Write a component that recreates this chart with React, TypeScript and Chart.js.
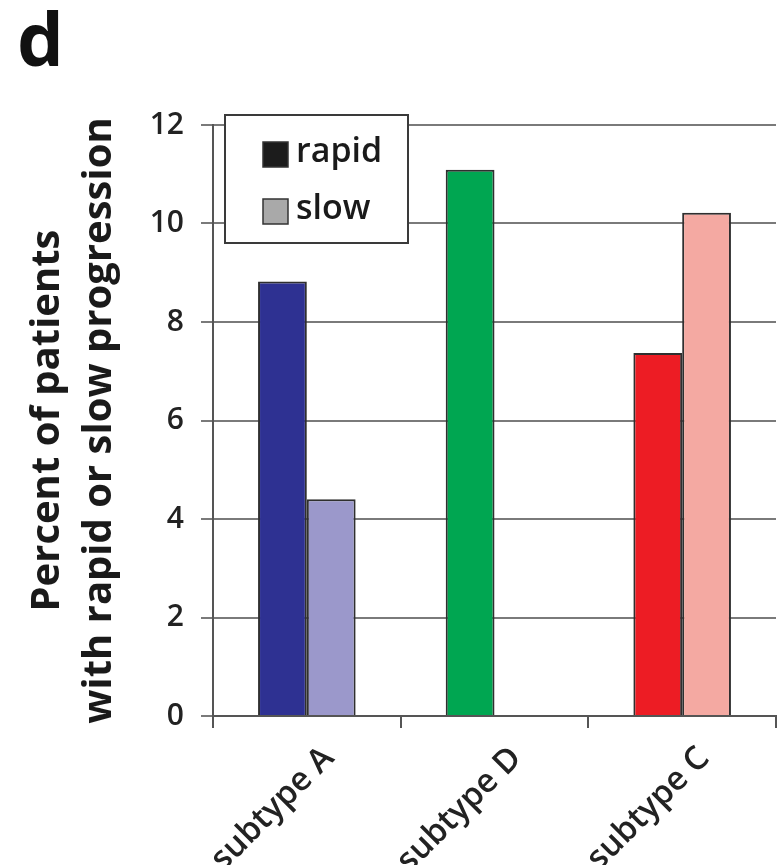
import React, { useEffect, useRef } from 'react';
import { Chart, registerables } from 'chart.js';

Chart.register(...registerables);

const categories = ['subtype A', 'subtype D', 'subtype C'];
const seriesLabels = ['rapid', 'slow'];
const rapidValues: (number | null)[] = [8.82, 11.09, 7.37];
const slowValues: (number | null)[] = [4.4, null, 10.22];
const rapidColors = ['#2E3192', '#00A651', '#ED1C24'];
const slowColors = ['#9B98CB', '#FFFFFF', '#F4A9A2'];
const legendSwatches = ['#1C1C1C', '#A9A9A9'];
const yTicks = [0, 2, 4, 6, 8, 10, 12];
const yTitle = ['Percent of patients', 'with rapid or slow progression'];
const panelLetter = 'd';

const FONT = "'Open Sans', 'Liberation Sans', sans-serif";

const overlayPlugin = {
  id: 'overlay',
  afterDraw(chart: any) {
    const ctx = chart.ctx as CanvasRenderingContext2D;
    const a = chart.chartArea;
    ctx.save();
    // panel letter
    ctx.fillStyle = '#111111';
    ctx.font = `bold 74px ${FONT}`;
    ctx.textBaseline = 'alphabetic';
    ctx.textAlign = 'left';
    ctx.fillText(panelLetter, 17, 66);
    // legend box
    const x0 = a.left + 12;
    const y0 = a.top - 10;
    const w = 183;
    const h = 128;
    ctx.fillStyle = '#ffffff';
    ctx.fillRect(x0, y0, w, h);
    ctx.strokeStyle = '#3a3a3a';
    ctx.lineWidth = 2;
    ctx.strokeRect(x0, y0, w, h);
    chart.data.datasets.forEach((ds: any, i: number) => {
      const cy = y0 + 39 + i * 57;
      ctx.fillStyle = legendSwatches[i];
      ctx.fillRect(x0 + 38, cy - 12, 25, 25);
      ctx.strokeStyle = '#333333';
      ctx.lineWidth = 1.5;
      ctx.strokeRect(x0 + 38, cy - 12, 25, 25);
      ctx.fillStyle = '#1a1a1a';
      ctx.font = `600 34px ${FONT}`;
      ctx.textBaseline = 'middle';
      ctx.fillText(ds.label, x0 + 71, cy - 2);
    });
    ctx.restore();
  },
};

export default function App() {
  const canvasRef = useRef<HTMLCanvasElement | null>(null);

  useEffect(() => {
    if (!canvasRef.current) return;
    const chart = new Chart(canvasRef.current, {
      type: 'bar',
      data: {
        labels: categories,
        datasets: [
          {
            label: seriesLabels[0],
            data: rapidValues,
            backgroundColor: rapidColors,
            borderColor: '#2f2f2f',
            borderWidth: 2,
            categoryPercentage: 0.52,
            barPercentage: 1,
          },
          {
            label: seriesLabels[1],
            data: slowValues,
            backgroundColor: slowColors,
            borderColor: '#2f2f2f',
            borderWidth: 2,
            categoryPercentage: 0.52,
            barPercentage: 1,
          },
        ],
      },
      options: {
        animation: false,
        responsive: true,
        maintainAspectRatio: false,
        layout: { padding: { top: 125, right: 1, left: 0, bottom: 0 } },
        plugins: {
          legend: { display: false },
          tooltip: { enabled: false },
        },
        scales: {
          x: {
            ticks: {
              color: '#222222',
              font: { size: 33, weight: '600', family: FONT },
              minRotation: 45,
              maxRotation: 45,
              padding: 11,
              labelOffset: 22,
            },
            grid: {
              offset: true,
              drawOnChartArea: false,
              drawTicks: true,
              tickLength: 12,
              color: '#555555',
              lineWidth: 2,
            },
            border: { color: '#555555', width: 2 },
            afterFit: (s: any) => {
              s.height = 149;
            },
          },
          y: {
            min: 0,
            max: 12,
            afterBuildTicks: (s: any) => {
              s.ticks = yTicks.map((v) => ({ value: v }));
            },
            ticks: {
              color: '#222222',
              font: { size: 30, weight: '600', family: FONT },
              padding: 17,
            },
            grid: {
              color: '#7a7a7a',
              lineWidth: 2,
              tickLength: 12,
              drawTicks: true,
            },
            border: { color: '#555555', width: 2 },
            title: {
              display: true,
              text: yTitle,
              color: '#1a1a1a',
              font: { size: 40, weight: 'bold', family: FONT, lineHeight: 1.3 },
              padding: { top: 22, bottom: 0 },
            },
            afterFit: (s: any) => {
              s.width = 213;
            },
          },
        },
      },
      plugins: [overlayPlugin],
    } as any);
    return () => chart.destroy();
  }, []);

  return (
    <div style={{ position: 'fixed', left: 0, top: 0, width: 777, height: 865, background: '#ffffff' }}>
      <canvas ref={canvasRef} />
    </div>
  );
}
